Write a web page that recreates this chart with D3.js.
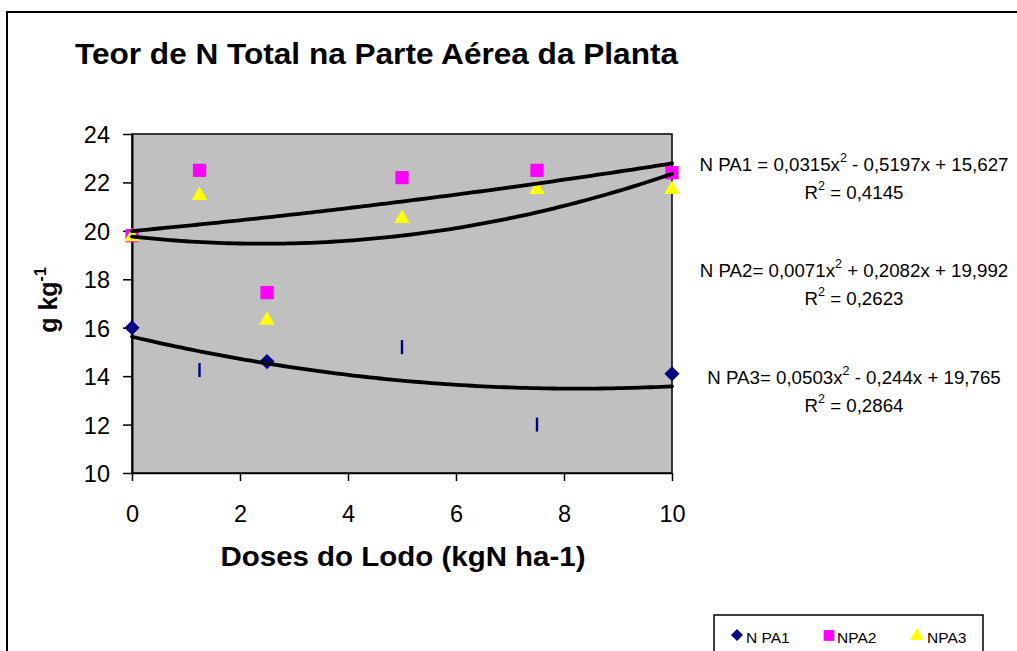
<!DOCTYPE html>
<html>
<head>
<meta charset="utf-8">
<script src="https://cdn.jsdelivr.net/npm/d3@7"></script>
<style>
  html, body { margin: 0; padding: 0; background: #fff; }
  svg { display: block; font-family: "Liberation Sans", Arial, sans-serif; }
</style>
</head>
<body>
<svg id="chart" width="1017" height="651"></svg>
<script>
// ---- data ----
const doses = [0, 1.25, 2.5, 5, 7.5, 10];
const npa1 = [16.0, 14.25, 14.6, 15.2, 12.0, 14.1];
const npa2 = [19.8, 22.5, 17.45, 22.2, 22.5, 22.4];
const npa3 = [19.8, 21.5, 16.35, 20.55, 21.75, 21.75];
const seriesNames = ["N PA1", "NPA2", "NPA3"];
const xTicks = [0, 2, 4, 6, 8, 10];
const yTicks = [10, 12, 14, 16, 18, 20, 22, 24];
// trendline coefficients [a, b, c] for a*x^2 + b*x + c (from the chart's equations)
const coefPA1 = [0.0315, -0.5197, 15.627];
const coefPA2 = [0.0071, 0.2082, 19.992];
const coefPA3 = [0.0503, -0.244, 19.765];
const eqNames = ["N PA1 = ", "N PA2= ", "N PA3= "];
const eqA = ["0,0315x", "0,0071x", "0,0503x"];
const eqRest = [" - 0,5197x + 15,627", " + 0,2082x + 19,992", " - 0,244x + 19,765"];
const r2 = ["0,4145", "0,2623", "0,2864"];
const titleText = "Teor de N Total na Parte Aérea da Planta";
const xLabel = "Doses do Lodo (kgN ha-1)";

// ---- layout ----
const svg = d3.select("#chart");
const x = d3.scaleLinear().domain([0, 10]).range([132, 672]);
const y = d3.scaleLinear().domain([10, 24]).range([473, 134]);

// outer frame
svg.append("rect").attr("x", 7).attr("y", 12).attr("width", 1030).attr("height", 660)
  .attr("fill", "none").attr("stroke", "#000").attr("stroke-width", 2);

// title
svg.append("text").attr("x", 75).attr("y", 64)
  .attr("font-size", 30).attr("font-weight", "bold")
  .attr("textLength", 603).attr("lengthAdjust", "spacingAndGlyphs")
  .text(titleText);

// plot area
svg.append("rect").attr("x", x(0)).attr("y", y(24))
  .attr("width", x(10) - x(0)).attr("height", y(10) - y(24))
  .attr("fill", "#C0C0C0").attr("stroke", "#000").attr("stroke-width", 1.5);

// axes
const yAxis = d3.axisLeft(y).tickValues(yTicks).tickSize(9).tickPadding(13).tickSizeOuter(0);
const gy = svg.append("g").attr("transform", `translate(${x(0)},0)`).call(yAxis);
gy.selectAll("text").attr("font-size", 23.5).attr("font-family", "Liberation Sans, Arial, sans-serif").attr("fill", "#000").attr("dy", "0.36em");
gy.selectAll("line").attr("stroke", "#000").attr("stroke-width", 1.5);
gy.select(".domain").attr("stroke", "#000").attr("stroke-width", 2);

const xAxis = d3.axisBottom(x).tickValues(xTicks).tickSize(8).tickPadding(24).tickSizeOuter(0);
const gx = svg.append("g").attr("transform", `translate(0,${y(10)})`).call(xAxis);
gx.selectAll("text").attr("font-size", 23.5).attr("font-family", "Liberation Sans, Arial, sans-serif").attr("fill", "#000");
gx.selectAll("line").attr("stroke", "#000").attr("stroke-width", 1.5);
gx.select(".domain").attr("stroke", "#000").attr("stroke-width", 1.5);

// axis labels
svg.append("text").attr("x", 403).attr("y", 566).attr("text-anchor", "middle")
  .attr("font-size", 27.5).attr("font-weight", "bold")
  .attr("textLength", 365).attr("lengthAdjust", "spacingAndGlyphs")
  .text(xLabel);

const yl = svg.append("text").attr("transform", "translate(57,300) rotate(-90)")
  .attr("text-anchor", "middle").attr("font-size", 25).attr("font-weight", "bold");
yl.append("tspan").text("g kg");
yl.append("tspan").attr("dy", -11).attr("font-size", 16).text("-1");

// markers
const pts = (vals) => doses.map((d, i) => ({ x: d, v: vals[i], i }));
const brokenIdx = [1, 3, 4]; // NPA1 points drawn as thin bars in the original
const diamond = d3.symbol().type(d3.symbolSquare).size(115);
svg.append("g").selectAll("path").data(pts(npa1).filter(p => !brokenIdx.includes(p.i))).join("path")
  .attr("d", diamond)
  .attr("transform", p => `translate(${x(p.x)},${y(p.v)}) rotate(45)`)
  .attr("fill", "#000080");
svg.append("g").selectAll("rect").data(pts(npa1).filter(p => brokenIdx.includes(p.i))).join("rect")
  .attr("x", p => x(p.x) - 1.2).attr("y", p => y(p.v) - 7)
  .attr("width", 2.4).attr("height", 14).attr("fill", "#000080");

svg.append("g").selectAll("path").data(pts(npa2)).join("path")
  .attr("d", d3.symbol().type(d3.symbolSquare).size(175))
  .attr("transform", p => `translate(${x(p.x)},${y(p.v)})`)
  .attr("fill", "#FF00FF");

svg.append("g").selectAll("path").data(pts(npa3)).join("path")
  .attr("d", d3.symbol().type(d3.symbolTriangle).size(105))
  .attr("transform", p => `translate(${x(p.x)},${y(p.v) + 1})`)
  .attr("fill", "#FFFF00");

// trendlines
const xs = d3.range(0, 10.001, 0.1);
const trend = (c) => xs.map(t => ({ x: t, v: c[0] * t * t + c[1] * t + c[2] }));
const line = d3.line().x(d => x(d.x)).y(d => y(d.v));
[coefPA1, coefPA2, coefPA3].forEach(c => {
  svg.append("path").attr("d", line(trend(c)))
    .attr("fill", "none").attr("stroke", "#000").attr("stroke-width", 3.8)
    .attr("stroke-linecap", "round");
});

// equations
const eqBase = [171, 277, 384];
const eqG = svg.append("g").attr("font-size", 18.7).attr("fill", "#000");
eqBase.forEach((b, k) => {
  const t = eqG.append("text").attr("x", 854).attr("y", b).attr("text-anchor", "middle");
  t.append("tspan").text(eqNames[k] + eqA[k]);
  t.append("tspan").attr("dy", -9).attr("font-size", 12.5).text("2");
  t.append("tspan").attr("dy", 9).text(eqRest[k]);
  const r = eqG.append("text").attr("x", 854).attr("y", b + 28).attr("text-anchor", "middle");
  r.append("tspan").text("R");
  r.append("tspan").attr("dy", -9).attr("font-size", 12.5).text("2");
  r.append("tspan").attr("dy", 9).text(" = " + r2[k]);
});

// legend
svg.append("rect").attr("x", 714).attr("y", 615).attr("width", 269).attr("height", 60)
  .attr("fill", "#fff").attr("stroke", "#000").attr("stroke-width", 1.5);
const legX = [737, 829, 917];
const legTextX = [746, 837, 927];
const legSym = [
  (g, cx) => g.append("path").attr("d", d3.symbol().type(d3.symbolSquare).size(72)())
    .attr("transform", `translate(${cx},635) rotate(45)`).attr("fill", "#000080"),
  (g, cx) => g.append("path").attr("d", d3.symbol().type(d3.symbolSquare).size(115)())
    .attr("transform", `translate(${cx},635.5)`).attr("fill", "#FF00FF"),
  (g, cx) => g.append("path").attr("d", d3.symbol().type(d3.symbolTriangle).size(85)())
    .attr("transform", `translate(${cx},636)`).attr("fill", "#FFFF00")
];
const lg = svg.append("g");
seriesNames.forEach((n, k) => {
  legSym[k](lg, legX[k]);
  lg.append("text").attr("x", legTextX[k]).attr("y", 643).attr("font-size", 15.5).text(n);
});
</script>
</body>
</html>
